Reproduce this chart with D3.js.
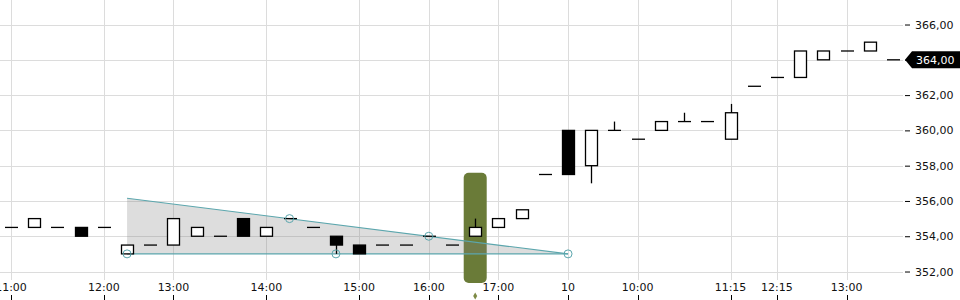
<!DOCTYPE html>
<meta charset="utf-8">
<style>
  body { margin: 0; background: #fff; }
  svg text { font-family: "DejaVu Sans", sans-serif; font-size: 11px; fill: #111; }
</style>
<svg width="960" height="300"></svg>
<script src="https://d3js.org/d3.v7.min.js"></script>
<script>
// candle times (day hh:mm)
var times = ["9 11:00","9 11:15","9 11:30","9 11:45","9 12:00","9 12:20","9 12:40","9 13:00",
  "9 13:15","9 13:30","9 13:45","9 14:00","9 14:15","9 14:30","9 14:45","9 15:00","9 15:20",
  "9 15:40","9 16:00","9 16:20","9 16:40","9 17:00","9 17:20","9 17:40","10 09:00","10 09:20",
  "10 09:40","10 10:00","10 10:20","10 10:40","10 11:00","10 11:15","10 11:45","10 12:15",
  "10 12:30","10 12:45","10 13:00","10 13:15","10 13:30"];
var open  = [354.5,354.5,354.5,354.5,354.5,353,353.5,353.5,354,354,355,354,355,354.5,354,353.5,353.5,353.5,354,353.5,354,354.5,355,357.5,360,358,360,359.5,360,360.5,360.5,359.5,362.5,363,363,364,364.5,364.5,364];
var high  = [354.5,355,354.5,354.5,354.5,353.5,353.5,355,354.5,354,355,354.5,355,354.5,354,353.5,353.5,353.5,354,353.5,355,355,355.5,357.5,360,360,360.5,359.5,360.5,361,360.5,361.5,362.5,363,364.5,364.5,364.5,365,364];
var low   = [354.5,354.5,354.5,354,354.5,353,353.5,353.5,354,354,354,354,355,354.5,353,353,353.5,353.5,354,353.5,354,354.5,355,357.5,357.5,357,360,359.5,360,360.5,360.5,359.5,362.5,363,363,364,364.5,364.5,364];
var close = [354.5,355,354.5,354,354.5,353.5,353.5,355,354.5,354,354,354.5,355,354.5,353.5,353,353.5,353.5,354,353.5,354.5,355,355.5,357.5,357.5,360,360,359.5,360.5,360.5,360.5,361,362.5,363,364.5,364.5,364.5,365,364];

var tickTimes = ["9 11:00","9 12:00","9 13:00","9 14:00","9 15:00","9 16:00","9 17:00",
  "10 09:00","10 10:00","10 11:15","10 12:15","10 13:00"];
var tickText = ["11:00","12:00","13:00","14:00","15:00","16:00","17:00","10","10:00","11:15","12:15","13:00"];
var yTicks = [352,354,356,358,360,362,364,366];
var lastPrice = 364;

// triangle pattern
var patternUpper = [["9 12:20",356.15],["10 09:00",353]];
var patternLower = [["9 12:20",353],["10 09:00",353]];
var patternPoints = [["9 12:20",353],["9 14:15",355],["9 14:45",353],["9 16:00",354],["10 09:00",353]];
// event marker
var eventTime = "9 16:40";
var eventTop = 357.6;

var svg = d3.select("svg"),
    plotW = 905, plotH = 280;

var x = d3.scaleBand().domain(times).range([-0.6, 904.6]);
var y = d3.scaleLinear().domain([351.52, 367.39]).range([plotH, 0]);
var cx = function(t) { return x(t) + x.bandwidth() / 2; };
var de = d3.formatLocale({decimal: ",", thousands: ".", grouping: [3], currency: ["", ""]});
var fmt = de.format(".2f");

// grid
var grid = svg.append("g").attr("stroke", "#dcdcdc").attr("stroke-width", 1);
grid.selectAll(".h").data(yTicks).enter().append("line")
    .attr("x1", 0).attr("x2", plotW - 2)
    .attr("y1", function(d) { return Math.round(y(d)) + 0.5; })
    .attr("y2", function(d) { return Math.round(y(d)) + 0.5; });
grid.selectAll(".v").data(tickTimes).enter().append("line")
    .attr("x1", function(d) { return Math.round(cx(d)) + 0.5; })
    .attr("x2", function(d) { return Math.round(cx(d)) + 0.5; })
    .attr("y1", 0).attr("y2", plotH);

// event highlight
svg.append("rect")
    .attr("x", cx(eventTime) - 11.5).attr("width", 23)
    .attr("y", y(eventTop)).attr("height", plotH + 3 - y(eventTop))
    .attr("rx", 5).attr("fill", "#6a7b38");
svg.append("path")
    .attr("d", d3.symbol().type(d3.symbolDiamond).size(14))
    .attr("transform", "translate(" + cx(eventTime) + ",296)")
    .attr("fill", "#7d8a45");

// triangle
var poly = [patternUpper[0], patternUpper[1], patternLower[0]];
svg.append("path")
    .attr("d", "M" + poly.map(function(p) { return cx(p[0]) + "," + y(p[1]); }).join("L") + "Z")
    .attr("fill", "rgba(128,128,128,0.27)");
var teal = "#5ba6ad";
[patternUpper, patternLower].forEach(function(l) {
  svg.append("line")
      .attr("x1", cx(l[0][0])).attr("y1", y(l[0][1]))
      .attr("x2", cx(l[1][0])).attr("y2", y(l[1][1]))
      .attr("stroke", teal).attr("stroke-width", 1.1);
});

// candles
var candles = svg.append("g");
times.forEach(function(t, i) {
  var c = Math.round(cx(t)) + 0.5;
  if (high[i] > Math.max(open[i], close[i]) || low[i] < Math.min(open[i], close[i])) {
    candles.append("line").attr("x1", c).attr("x2", c)
        .attr("y1", y(high[i])).attr("y2", y(low[i]))
        .attr("stroke", "#000").attr("stroke-width", 1.3);
  }
  if (open[i] == close[i]) {
    candles.append("line").attr("x1", c - 6.5).attr("x2", c + 6.5)
        .attr("y1", y(open[i])).attr("y2", y(open[i]))
        .attr("stroke", "#000").attr("stroke-width", 1.3);
  } else {
    var top = y(Math.max(open[i], close[i])), bot = y(Math.min(open[i], close[i]));
    candles.append("rect").attr("x", c - 6).attr("width", 12)
        .attr("y", top).attr("height", bot - top)
        .attr("fill", close[i] > open[i] ? "#fff" : "#000")
        .attr("stroke", "#000").attr("stroke-width", 1.3);
  }
});

// pattern pivot circles
svg.selectAll(".pv").data(patternPoints).enter().append("circle")
    .attr("cx", function(d) { return cx(d[0]); })
    .attr("cy", function(d) { return y(d[1]); })
    .attr("r", 4).attr("fill", "none")
    .attr("stroke", teal).attr("stroke-width", 1);

// y axis
var yAxis = svg.append("g").attr("transform", "translate(" + plotW + ",0)")
    .call(d3.axisRight(y).tickValues(yTicks).tickSize(5).tickPadding(5).tickFormat(fmt));
yAxis.select(".domain").remove();
yAxis.selectAll("text").attr("fill", "#111").style("font-size", "11px")
    .style("font-family", "DejaVu Sans, sans-serif");

// current price flag
var py = y(lastPrice);
svg.append("path")
    .attr("d", "M905," + py + "L912," + (py - 8.5) + "L960," + (py - 8.5) + "L960," + (py + 8.5) + "L912," + (py + 8.5) + "Z")
    .attr("fill", "#000");
svg.append("text").attr("x", 916).attr("y", py + 4)
    .style("fill", "#fff").text(fmt(lastPrice));

// x axis
var xa = svg.append("g");
xa.selectAll("line").data(tickTimes).enter().append("line")
    .attr("x1", function(d) { return Math.round(cx(d)) + 0.5; })
    .attr("x2", function(d) { return Math.round(cx(d)) + 0.5; })
    .attr("y1", 295).attr("y2", 300)
    .attr("stroke", "#000");
xa.selectAll("text").data(tickTimes).enter().append("text")
    .attr("x", function(d) { return cx(d); })
    .attr("y", 291)
    .attr("text-anchor", "middle")
    .text(function(d, i) { return tickText[i]; });
</script>
